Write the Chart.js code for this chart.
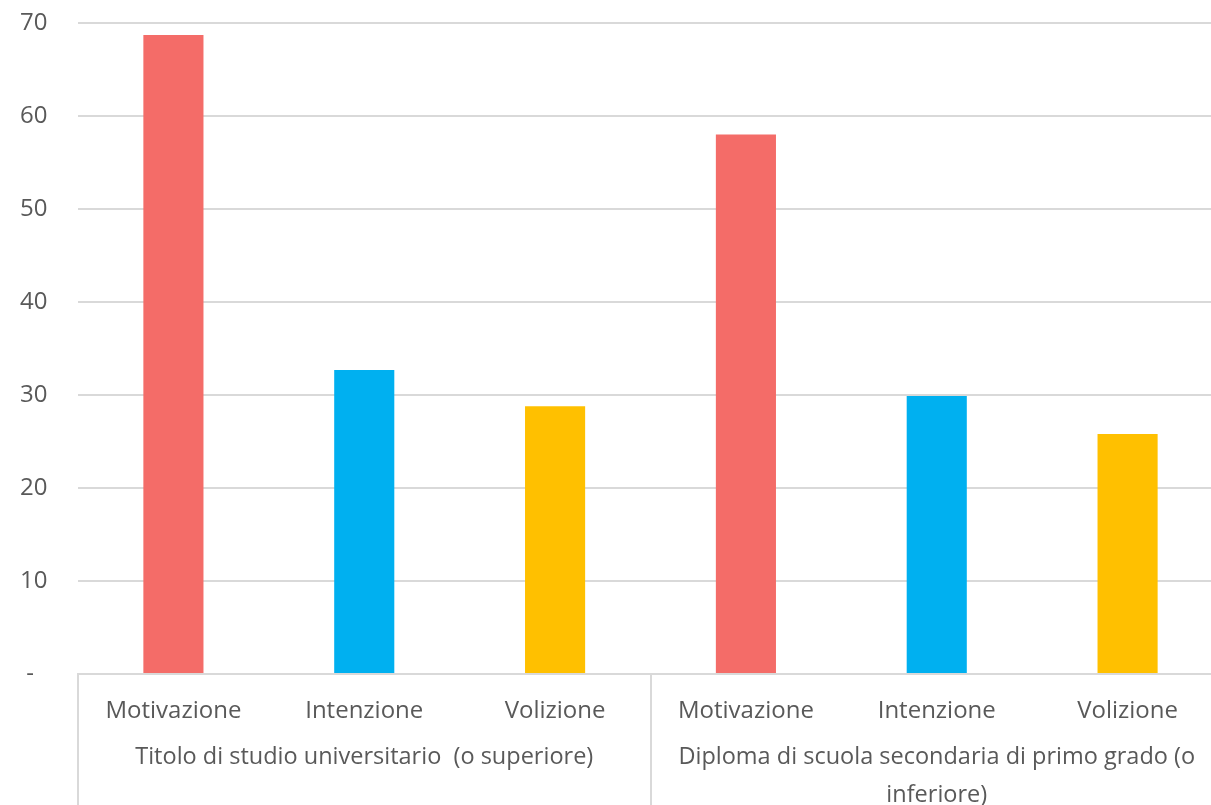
<!DOCTYPE html>
<html>
<head>
<meta charset="utf-8">
<script src="https://cdn.jsdelivr.net/npm/chart.js@4.4.1/dist/chart.umd.min.js"></script>
<style>
  html, body { margin: 0; padding: 0; background: #ffffff; overflow: hidden; }
  #wrap { position: relative; width: 1223px; height: 805px; }
</style>
</head>
<body>
<div id="wrap"><canvas id="c"></canvas></div>
<script>
// ---- data ----
const categories = ['Motivazione', 'Intenzione', 'Volizione', 'Motivazione', 'Intenzione', 'Volizione'];
const groups = ['Titolo di studio universitario  (o superiore)', ['Diploma di scuola secondaria di primo grado (o', 'inferiore)']];
const values = [68.7, 32.7, 28.8, 58.0, 29.9, 25.8];
const seriesColors = ['#F46C68', '#00B0F0', '#FFC000', '#F46C68', '#00B0F0', '#FFC000'];
const yTicks = [0, 10, 20, 30, 40, 50, 60, 70];

const textColor = '#595959';
const gridColor = '#D9D9D9';
const fontFamily = '"Open Sans", "Liberation Sans", sans-serif';

new Chart(document.getElementById('c'), {
  type: 'bar',
  data: {
    labels: categories,
    datasets: [{
      data: values,
      backgroundColor: seriesColors,
      borderWidth: 0,
      categoryPercentage: 1,
      barPercentage: 0.315
    }]
  },
  options: {
    responsive: true,
    maintainAspectRatio: false,
    animation: false,
    layout: { padding: { top: 23, right: 0, bottom: 0, left: 20 } },
    plugins: { legend: { display: false }, tooltip: { enabled: false } },
    scales: {
      y: {
        min: 0, max: 70,
        afterBuildTicks: s => { s.ticks = yTicks.map(v => ({ value: v })); },
        afterFit: s => { s.width = 58; },
        ticks: {
          color: textColor,
          font: { family: fontFamily, size: 24 },
          padding: 0,
          crossAlign: 'far',
          callback: v => v === 0 ? '\u00a0-' : String(v)
        },
        grid: { color: gridColor, lineWidth: 2, drawTicks: false },
        border: { display: false }
      },
      x: {
        type: 'category',
        position: 'bottom',
        afterFit: s => { s.height = 47; },
        ticks: {
          color: textColor,
          font: { family: fontFamily, size: 24, lineHeight: 1.2 },
          padding: -117,
          maxRotation: 0,
          autoSkip: false
        },
        grid: {
          offset: true,
          drawOnChartArea: false,
          tickLength: 140,
          lineWidth: 2,
          color: ctx => (ctx.index % 3 === 0) ? gridColor : 'rgba(0,0,0,0)'
        },
        border: { display: true, color: gridColor, width: 2 }
      },
      x2: {
        type: 'category',
        position: 'bottom',
        labels: groups,
        offset: true,
        afterFit: s => { s.height = 84; },
        ticks: {
          color: textColor,
          font: { family: fontFamily, size: 23.5, lineHeight: 1.617 },
          padding: 17,
          maxRotation: 0,
          autoSkip: false
        },
        grid: { display: false, drawTicks: false },
        border: { display: false }
      }
    }
  }
});
</script>
</body>
</html>
